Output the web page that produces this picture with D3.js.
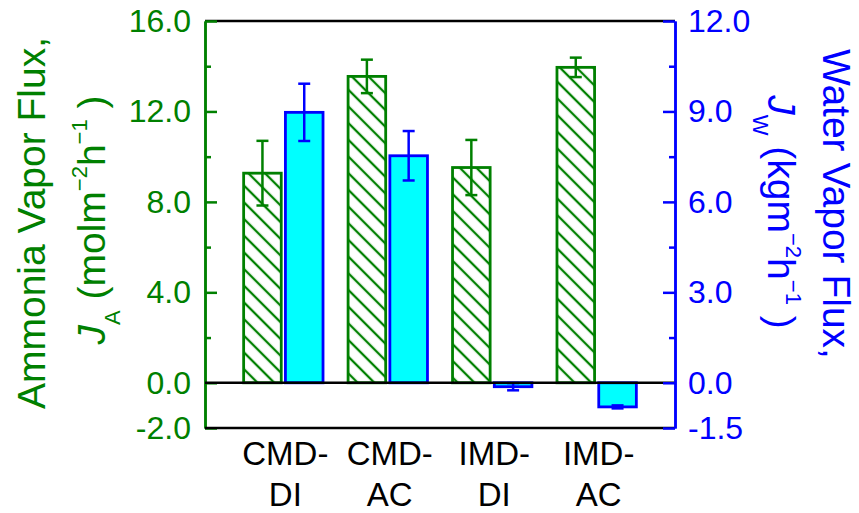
<!DOCTYPE html>
<html>
<head>
<meta charset="utf-8">
<script src="https://cdn.jsdelivr.net/npm/d3@7"></script>
<style>
  body { margin: 0; background: #fff; }
  svg { display: block; font-family: "Liberation Sans", Arial, sans-serif; }
  .axis text { font-size: 32px; font-family: "Liberation Sans", Arial, sans-serif; }
</style>
</head>
<body>
<svg width="859" height="513"></svg>
<script>
var categories = ["CMD-DI", "CMD-AC", "IMD-DI", "IMD-AC"];
var ammonia = [9.27, 13.55, 9.52, 13.95];
var ammoniaErr = [1.43, 0.74, 1.22, 0.43];
var water = [8.97, 7.53, -0.13, -0.80];
var waterErr = [0.95, 0.82, 0.12, 0.05];
var leftTicks = [-2, 0, 4, 8, 12, 16];
var leftMinor = [2, 6, 10, 14];
var rightTicks = [-1.5, 0, 3, 6, 9, 12];
var rightMinor = [1.5, 4.5, 7.5, 10.5];

var green = "#008000", blue = "#0000ff", cyan = "#00ffff";

var svg = d3.select("svg"),
    plotL = 205, plotR = 675, plotT = 21, plotB = 428;

var x = d3.scaleLinear().domain([0.25, 4.75]).range([plotL, plotR]),
    yL = d3.scaleLinear().domain([-2, 16]).range([plotB, plotT]),
    yR = d3.scaleLinear().domain([-1.5, 12]).range([plotB, plotT]);

var barW = x(0.36) - x(0), off = x(0.2) - x(0);

// hatch pattern for ammonia bars
svg.append("defs").append("pattern")
    .attr("id", "hatch")
    .attr("patternUnits", "userSpaceOnUse")
    .attr("width", 11.8).attr("height", 12)
    .attr("patternTransform", "rotate(-45)")
  .append("line")
    .attr("x1", 5.9).attr("x2", 5.9).attr("y1", -1).attr("y2", 13)
    .style("stroke", green).style("stroke-width", 2.3);

// top frame
svg.append("line").attr("x1", plotL).attr("x2", plotR).attr("y1", plotT).attr("y2", plotT)
    .style("stroke", "#000").style("stroke-width", 2.5);

// ammonia bars
svg.selectAll(".barA")
  .data(ammonia)
  .enter().append("rect")
    .attr("class", "barA")
    .attr("x", function(d, i) { return x(i + 1) - off - barW / 2; })
    .attr("y", function(d) { return yL(Math.max(d, 0)); })
    .attr("width", barW)
    .attr("height", function(d) { return Math.abs(yL(d) - yL(0)); })
    .style("fill", "url(#hatch)")
    .style("stroke", green)
    .style("stroke-width", 2.8);

// water bars
svg.selectAll(".barW")
  .data(water)
  .enter().append("rect")
    .attr("class", "barW")
    .attr("x", function(d, i) { return x(i + 1) + off - barW / 2; })
    .attr("y", function(d) { return yR(Math.max(d, 0)); })
    .attr("width", barW)
    .attr("height", function(d) { return Math.abs(yR(d) - yR(0)); })
    .style("fill", cyan)
    .style("stroke", blue)
    .style("stroke-width", 2.8);

function errBars(vals, errs, y, dx, color) {
  var g = svg.append("g").style("stroke", color).style("stroke-width", 2.5);
  vals.forEach(function(v, i) {
    var cx = x(i + 1) + dx, y1 = y(v + errs[i]), y2 = y(v - errs[i]);
    g.append("line").attr("x1", cx).attr("x2", cx).attr("y1", y1).attr("y2", y2);
    g.append("line").attr("x1", cx - 6).attr("x2", cx + 6).attr("y1", y1).attr("y2", y1);
    g.append("line").attr("x1", cx - 6).attr("x2", cx + 6).attr("y1", y2).attr("y2", y2);
  });
}
errBars(ammonia, ammoniaErr, yL, -off, green);
errBars(water, waterErr, yR, off, blue);

// left axis
var gl = svg.append("g").attr("class", "axis")
    .attr("transform", "translate(" + plotL + ",0)")
    .call(d3.axisLeft(yL).tickValues(leftTicks).tickSizeInner(-12).tickSizeOuter(0)
      .tickPadding(14).tickFormat(function(d) { return d.toFixed(1); }));
var glm = svg.append("g")
    .attr("transform", "translate(" + plotL + ",0)")
    .call(d3.axisLeft(yL).tickValues(leftMinor).tickSizeInner(-6).tickSizeOuter(0).tickFormat(""));
gl.selectAll("text").style("fill", green);
gl.selectAll("path, line").style("stroke", green).style("stroke-width", 2.5);
glm.selectAll("path, line").style("stroke", green).style("stroke-width", 2.5);

// zero line and bottom frame
svg.append("line").attr("x1", plotL).attr("x2", plotR).attr("y1", yL(0)).attr("y2", yL(0))
    .style("stroke", "#000").style("stroke-width", 2.5);
svg.append("line").attr("x1", plotL).attr("x2", plotR).attr("y1", plotB).attr("y2", plotB)
    .style("stroke", "#000").style("stroke-width", 2.5);

// right axis
var gr = svg.append("g").attr("class", "axis")
    .attr("transform", "translate(" + plotR + ",0)")
    .call(d3.axisRight(yR).tickValues(rightTicks).tickSizeInner(-12).tickSizeOuter(0)
      .tickPadding(13).tickFormat(function(d) { return d.toFixed(1); }));
var grm = svg.append("g")
    .attr("transform", "translate(" + plotR + ",0)")
    .call(d3.axisRight(yR).tickValues(rightMinor).tickSizeInner(-6).tickSizeOuter(0).tickFormat(""));
gr.selectAll("text").style("fill", blue);
gr.selectAll("path, line").style("stroke", blue).style("stroke-width", 2.5);
grm.selectAll("path, line").style("stroke", blue).style("stroke-width", 2.5);

// category labels
categories.forEach(function(c, i) {
  var parts = c.split("-");
  var t = svg.append("text")
      .attr("text-anchor", "middle")
      .style("font-size", "33px")
      .style("fill", "#000");
  t.append("tspan").attr("x", x(i + 1) + 2).attr("y", 465).text(parts[0] + "-");
  t.append("tspan").attr("x", x(i + 1) + 2).attr("y", 506).text(parts[1]);
});

// axis titles
function fluxLabel(sel, sym, unit, color) {
  sel.style("fill", color).style("font-size", "39px").attr("text-anchor", "middle");
  sel.append("tspan").style("font-style", "italic").text("J");
  sel.append("tspan").attr("dy", 15).style("font-size", "22px").text(sym);
  sel.append("tspan").attr("dy", -15).text(" (" + unit);
  sel.append("tspan").attr("dy", -18).style("font-size", "22px").text("\u22122");
  sel.append("tspan").attr("dy", 18).text("h");
  sel.append("tspan").attr("dy", -18).style("font-size", "22px").text("\u22121");
  sel.append("tspan").attr("dy", 18).text(" )");
}

svg.append("text")
    .attr("transform", "translate(45,223) rotate(-90)")
    .attr("text-anchor", "middle")
    .style("font-size", "39px").style("fill", green)
    .text("Ammonia Vapor Flux,");
fluxLabel(svg.append("text").attr("transform", "translate(105,220) rotate(-90)"), "A", "molm", green);

svg.append("text")
    .attr("transform", "translate(823,204) rotate(90)")
    .attr("text-anchor", "middle")
    .style("font-size", "39px").style("fill", blue)
    .text("Water Vapor Flux,");
fluxLabel(svg.append("text").attr("transform", "translate(768,212) rotate(90)"), "W", "kgm", blue);
</script>
</body>
</html>
